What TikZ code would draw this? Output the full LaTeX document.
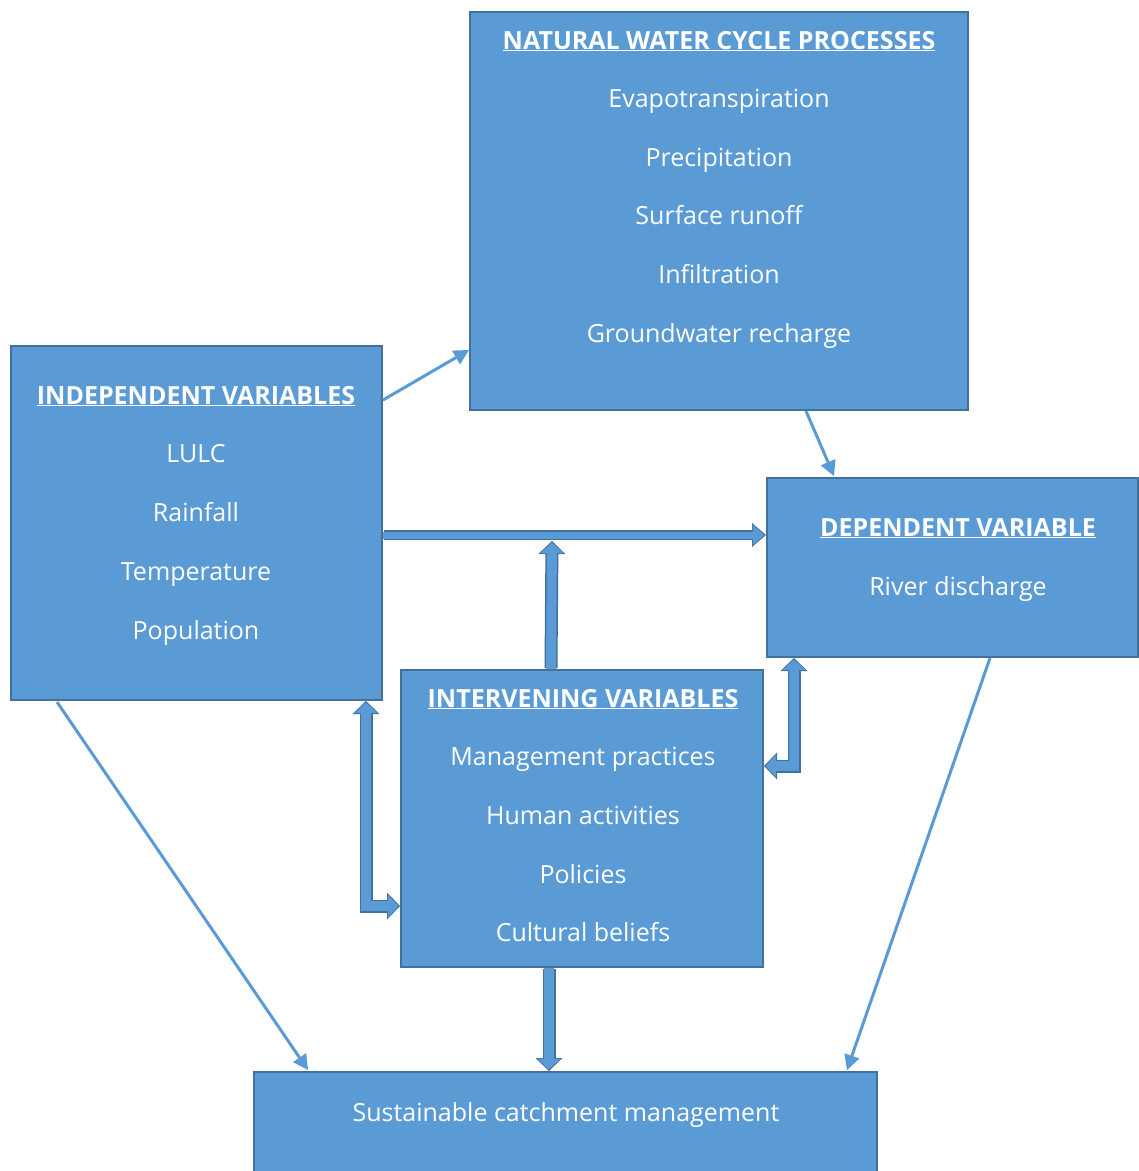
\documentclass[tikz,border=0pt]{standalone}
\usepackage{fontspec}
\setmainfont{Open Sans}
\usetikzlibrary{arrows.meta,calc}
\definecolor{fcol}{HTML}{5B9BD5}
\definecolor{bcol}{HTML}{41719C}
\begin{document}
\begin{tikzpicture}[x=1pt,y=-1pt,
  box/.style={draw=bcol, fill=fcol, line width=2pt, rectangle, inner sep=0pt},
  txt/.style={text=white, font=\fontsize{25}{29}\selectfont, inner sep=0pt, anchor=base},
  thinarrow/.style={draw=fcol, line width=3pt, -{Triangle[width=16pt,length=15pt,line width=0pt]}},
  fatout/.style={draw=bcol, line width=13pt, line join=miter, -{Triangle[width=27pt,length=13pt,line width=0pt]}},
  fatin/.style={draw=fcol, line width=10pt, line join=miter, -{Triangle[width=23pt,length=10.5pt,line width=0pt]}, shorten >=1.6pt},
  fatoutH/.style={draw=bcol, line width=10pt, -{Triangle[width=24pt,length=14pt,line width=0pt]}},
  fatinH/.style={draw=fcol, line width=7pt, -{Triangle[width=20pt,length=11.5pt,line width=0pt]}, shorten >=1.6pt},
  dblout/.style={draw=bcol, line width=13pt, line join=miter, {Triangle[width=27pt,length=13pt,line width=0pt]}-{Triangle[width=27pt,length=13pt,line width=0pt]}},
  dblin/.style={draw=fcol, line width=10pt, line join=miter, {Triangle[width=23pt,length=10.5pt,line width=0pt]}-{Triangle[width=23pt,length=10.5pt,line width=0pt]}, shorten >=1.6pt, shorten <=1.6pt}
]
\useasboundingbox (0,0) rectangle (1139,1171);
\clip (0,0) rectangle (1139,1171);
\fill[white] (0,0) rectangle (1139,1171);

% boxes
\node[box, minimum width=498pt, minimum height=398pt] (nat) at (719,211) {};
\node[box, minimum width=371pt, minimum height=354pt] (indep) at (196.5,523) {};
\node[box, minimum width=371pt, minimum height=179pt] (dep) at (952.5,567.5) {};
\node[box, minimum width=362pt, minimum height=297pt] (interv) at (582,818.5) {};
\node[box, minimum width=623pt, minimum height=118pt] (sust) at (565.5,1131) {};

% texts
\node[txt] (natT) at (719,49) {\underline{\textbf{NATURAL WATER CYCLE PROCESSES}}};
\foreach \t [count=\i] in {Evapotranspiration,Precipitation,Surface runoff,Infiltration,Groundwater recharge}
  \node[txt] (nat\i) at (719,{49+58.6*\i}) {\t};
\node[txt] (indepT) at (196,404) {\underline{\textbf{INDEPENDENT VARIABLES}}};
\foreach \t [count=\i] in {LULC,Rainfall,Temperature,Population}
  \node[txt] (indep\i) at (196,{404+58.8*\i}) {\t};
\node[txt] (depT) at (958,536) {\underline{\textbf{DEPENDENT VARIABLE}}};
\node[txt] (dep1) at (958,595) {River discharge};
\node[txt] (intervT) at (583,707) {\underline{\textbf{INTERVENING VARIABLES}}};
\foreach \t [count=\i] in {Management practices,Human activities,Policies,Cultural beliefs}
  \node[txt] (interv\i) at (583,{707+58.7*\i}) {\t};
\node[txt] (sust1) at (566,1121) {Sustainable catchment management};

% thin arrows
\draw[thinarrow] ($(indep.north east)+(0,55)$) -- ($(nat.south west)+(0,-61)$);
\draw[thinarrow] ($(nat.south west)+(337,0)$) -- ($(dep.north west)+(68,-1)$);
\draw[thinarrow] ($(indep.south west)+(47,1)$) -- ($(sust.north west)+(55,-1)$);
\draw[thinarrow] ($(dep.south west)+(224,0)$) -- ($(sust.north west)+(594,-1)$);

% fat arrows
\coordinate (hj) at (552,541);
\draw[fatoutH] ($(indep.north east)+(1,190)$) -- ($(dep.north west)+(0,58)$);
\draw[fatinH] ($(indep.north east)+(0,190)$) -- ($(dep.north west)+(0,58)$);

\draw[fatout] ($(interv.north west)+(151,-1)$) -- (hj);
\draw[fatin] ($(interv.north west)+(151,0)$) -- (hj);

\draw[fatout] ($(interv.south west)+(149,1)$) -- ($(sust.north west)+(296,0)$);
\draw[fatin] ($(interv.south west)+(149,0)$) -- ($(sust.north west)+(296,0)$);

\draw[dblout] ($(indep.south west)+(356,0)$) |- ($(interv.north west)+(0,237)$);
\draw[dblin] ($(indep.south west)+(356,0)$) |- ($(interv.north west)+(0,237)$);

\draw[dblout] ($(dep.south west)+(28,0)$) |- ($(interv.north east)+(0,97)$);
\draw[dblin] ($(dep.south west)+(28,0)$) |- ($(interv.north east)+(0,97)$);
\end{tikzpicture}
\end{document}
